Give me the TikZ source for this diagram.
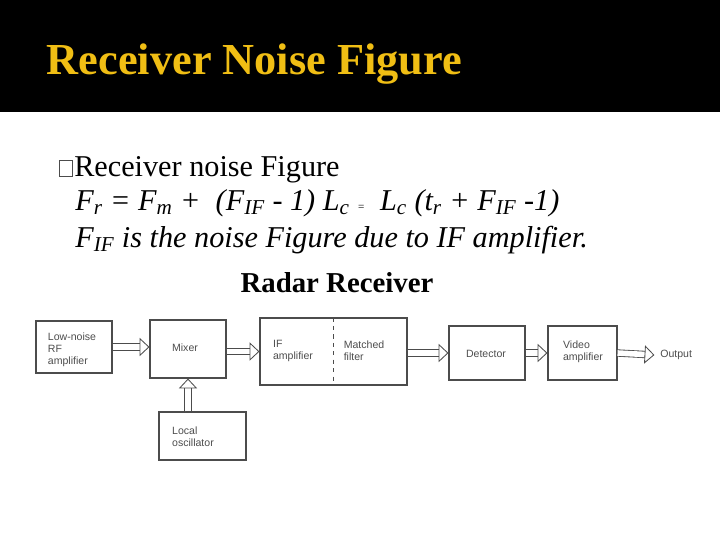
\documentclass[tikz,border=0pt]{standalone}
\usepackage{fontspec}
\setmainfont{Liberation Serif}
\newfontfamily\blockfont{Liberation Sans}
\usetikzlibrary{arrows.meta}
\definecolor{titlegold}{RGB}{240,190,20}
\tikzset{blk/.style={draw=black!70,line width=0.8pt,inner sep=0,font=\blockfont\fontsize{7.5}{8.5}\selectfont,text=black!70,align=left},
  lbl/.style={font=\blockfont\fontsize{7.5}{8.5}\selectfont,text=black!70,align=left},
  hollow/.style={draw=black!70,double=white,double distance=4pt,line width=0.6pt,-{Triangle[open,length=7pt,width=13pt]}}}
\newcommand\sub[1]{\textsubscript{#1}}
\begin{document}
\begin{tikzpicture}[x=0.025cm,y=-0.025cm]
\useasboundingbox (0,0) rectangle (720,540);
\fill[black] (0,0) rectangle (720,112);
\node[anchor=west,text=titlegold,font=\bfseries\fontsize{31.5}{34}\selectfont] (title) at (42,64) {Receiver Noise Figure};
%% text
\draw[black!70,line width=0.5pt] (59,160) rectangle (72,176);
\node[anchor=base west,font=\fontsize{21.5}{24}\selectfont,inner sep=0] (l1) at (74,176) {Receiver noise Figure};
\node[anchor=base west,font=\itshape\fontsize{21.5}{24}\selectfont,inner sep=0] (l2) at (75,210)
  {F\sub{r} = F\sub{m} +\ \ (F\sub{IF} - 1) L\sub{c} {\footnotesize =}\ \ L\sub{c} (t\sub{r} + F\sub{IF} -1)};
\node[anchor=base west,font=\itshape\fontsize{21.5}{24}\selectfont,inner sep=0] (l3) at (75,247)
  {F\sub{IF} is the noise Figure due to IF amplifier.};
\node[font=\bfseries\fontsize{20.5}{23}\selectfont,inner sep=0] (cap) at (337,283) {Radar Receiver};
%% blocks
\node[blk,minimum width=76*0.025cm,minimum height=52*0.025cm] (lna) at (74,347) {};
\node[lbl] at (72,350) {Low-noise\\ RF\\ amplifier};
\node[blk,minimum width=76*0.025cm,minimum height=58*0.025cm] (mix) at (188,349) {};
\node[lbl] at (185,348) {Mixer};
\node[blk,minimum width=147*0.025cm,minimum height=67*0.025cm] (ifmf) at (333.5,351.5) {};
\draw[black!70,dashed,line width=0.5pt] (ifmf.north) -- (ifmf.south);
\node[lbl] at (293,351) {IF\\ amplifier};
\node[lbl] at (364,351) {Matched\\ filter};
\node[blk,minimum width=76*0.025cm,minimum height=54*0.025cm] (det) at (487,353) {};
\node[lbl] at (486,354) {Detector};
\node[blk,minimum width=69*0.025cm,minimum height=54*0.025cm] (vid) at (582.5,353) {};
\node[lbl] at (583,352) {Video\\ amplifier};
\node[blk,minimum width=87*0.025cm,minimum height=48*0.025cm] (lo) at (202.5,436) {};
\node[lbl] at (193,437) {Local\\ oscillator};
\node[lbl,anchor=west,inner sep=0] (out) at (660,355) {Output};
%% arrows
\draw[hollow] (lna.east) -- (mix.west|-lna.east);
\draw[hollow] (mix.east|-ifmf) -- (ifmf.west);
\draw[hollow] (ifmf.east|-det) -- (det.west);
\draw[hollow] (det.east) -- (vid.west);
\draw[hollow] (vid.east) -- ([xshift=-4pt]out.west);
\draw[hollow] (lo.north-|mix) -- (mix.south);
\end{tikzpicture}
\end{document}
